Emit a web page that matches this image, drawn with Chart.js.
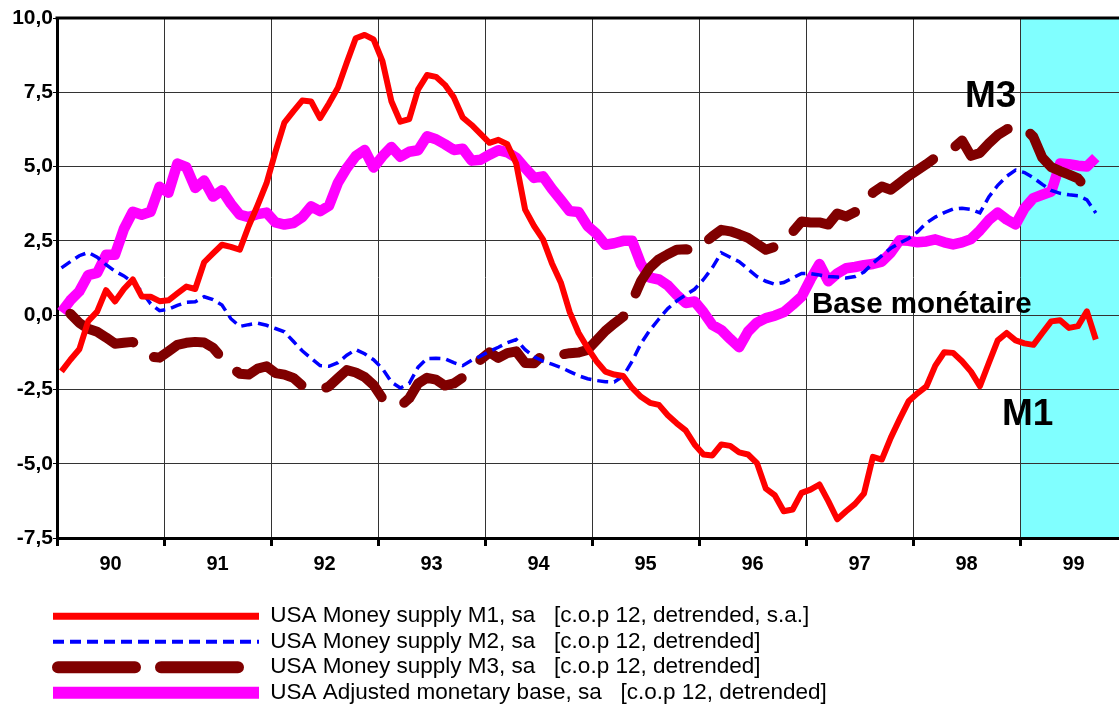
<!DOCTYPE html>
<html>
<head>
<meta charset="utf-8">
<script src="https://cdn.jsdelivr.net/npm/chart.js@4.4.0/dist/chart.umd.min.js"></script>
<style>
  html, body { margin: 0; padding: 0; background: #fff; }
  #wrap { width: 1119px; height: 709px; }
</style>
</head>
<body>
<div id="wrap"><canvas id="myChart" width="1119" height="709"></canvas></div>
<script>
// monthly values, Jan 1990 .. Sep 1999 (c.o.p 12, detrended)
var startYear = 1990;
var yearTicks = [1990, 1991, 1992, 1993, 1994, 1995, 1996, 1997, 1998, 1999];
var yearLabels = ["90", "91", "92", "93", "94", "95", "96", "97", "98", "99"];
var forecastFrom = 1999;

var m1 = [
  -1.89, -1.5, -1.15, -0.2, 0.12, 0.84, 0.46, 0.88, 1.2, 0.63,
  0.62, 0.47, 0.5, 0.73, 0.96, 0.88, 1.78, 2.08, 2.37, 2.3,
  2.2, 3.0, 3.7, 4.44, 5.5, 6.48, 6.86, 7.22, 7.19, 6.63,
  7.12, 7.65, 8.5, 9.32, 9.43, 9.28, 8.55, 7.2, 6.51, 6.6,
  7.6, 8.08, 8.02, 7.75, 7.33, 6.65, 6.4, 6.1, 5.8, 5.9,
  5.75, 5.1, 3.55, 3.0, 2.55, 1.75, 1.1, 0.1, -0.6, -1.1,
  -1.55, -1.9, -2.0, -2.05, -2.45, -2.75, -2.95, -3.02, -3.37, -3.64,
  -3.88, -4.35, -4.69, -4.72, -4.35, -4.4, -4.62, -4.69, -4.98, -5.84,
  -6.06, -6.6, -6.54, -5.98, -5.87, -5.7, -6.26, -6.87, -6.6, -6.35,
  -6.0, -4.77, -4.86, -4.13, -3.5, -2.9, -2.63, -2.4, -1.7, -1.25,
  -1.27, -1.55, -1.9, -2.39, -1.61, -0.85, -0.6, -0.85, -0.95, -1.0,
  -0.6, -0.21, -0.17, -0.43, -0.37, 0.13, -0.82
];
var m2 = [
  1.59, 1.8, 2.0, 2.11, 1.95, 1.7, 1.48, 1.32, 1.1, 0.8,
  0.38, 0.15, 0.2, 0.33, 0.43, 0.45, 0.62, 0.52, 0.34, -0.12,
  -0.38, -0.32, -0.27, -0.34, -0.45, -0.56, -0.88, -1.2, -1.45, -1.7,
  -1.72, -1.6, -1.35, -1.16, -1.3, -1.5, -1.8, -2.25, -2.45, -2.3,
  -1.75, -1.46, -1.45, -1.47, -1.6, -1.7, -1.52, -1.38, -1.22, -1.08,
  -0.93, -0.82, -1.16, -1.4, -1.55, -1.65, -1.76, -1.9, -2.04, -2.14,
  -2.2, -2.24, -2.25, -2.05, -1.55, -0.95, -0.5, -0.13, 0.22, 0.48,
  0.68, 0.87, 1.2, 1.6, 2.1, 1.95, 1.8, 1.55, 1.3, 1.14,
  1.04, 1.1, 1.25, 1.4, 1.4, 1.35, 1.3, 1.28, 1.25, 1.3,
  1.45, 1.75, 2.0, 2.25, 2.43, 2.58, 2.8, 3.1, 3.3, 3.45,
  3.57, 3.6, 3.56, 3.44, 3.98, 4.37, 4.67, 4.88, 4.8, 4.62,
  4.4, 4.2, 4.1, 4.05, 4.02, 3.88, 3.44
];
// M3 starts one month later
var m3 = [
  null, 0.05, -0.26, -0.46, -0.56, -0.75, -0.96, -0.93, -0.9, -1.22,
  -1.4, -1.43, -1.22, -1.0, -0.93, -0.9, -0.92, -1.1, -1.45, -1.75,
  -1.97, -2.0, -1.8, -1.72, -1.95, -2.0, -2.11, -2.37, -2.45, -2.52,
  -2.4, -2.12, -1.85, -1.93, -2.08, -2.35, -2.8, -2.95, -3.06, -2.8,
  -2.3, -2.11, -2.17, -2.37, -2.3, -2.1, -1.8, -1.5, -1.25, -1.44,
  -1.28, -1.22, -1.61, -1.62, -1.33, -1.33, -1.33, -1.28, -1.26, -1.17,
  -0.85, -0.53, -0.28, -0.05, 0.46, 1.15, 1.6, 1.88, 2.05, 2.2,
  2.22, 2.15, 2.4, 2.65, 2.87, 2.82, 2.72, 2.6, 2.4, 2.2,
  2.3, 2.5, 2.8, 3.15, 3.12, 3.12, 3.05, 3.42, 3.32, 3.47,
  3.75, 4.12, 4.33, 4.22, 4.45, 4.68, 4.88, 5.08, 5.3, 5.5,
  5.62, 5.88, 5.36, 5.46, 5.78, 6.06, 6.25, 6.38, 6.3, 6.0,
  5.3, 4.98, 4.85, 4.73, 4.6, 4.25, 3.8
];
var base = [
  0.1, 0.5, 0.8, 1.35, 1.42, 2.03, 2.03, 2.9, 3.48, 3.38,
  3.48, 4.32, 4.12, 5.1, 4.98, 4.28, 4.53, 3.99, 4.2, 3.75,
  3.38, 3.3, 3.4, 3.45, 3.12, 3.05, 3.1, 3.3, 3.66, 3.5,
  3.68, 4.45, 4.95, 5.35, 5.56, 4.97, 5.35, 5.66, 5.33, 5.5,
  5.55, 6.02, 5.92, 5.75, 5.56, 5.6, 5.2, 5.23, 5.4, 5.55,
  5.48, 5.3, 4.95, 4.62, 4.67, 4.25, 3.88, 3.5, 3.47, 3.0,
  2.74, 2.37, 2.42, 2.5, 2.5, 1.72, 1.26, 1.2, 1.0, 0.68,
  0.41, 0.46, 0.1, -0.33, -0.5, -0.8, -1.08, -0.55, -0.25, -0.1,
  -0.02, 0.1, 0.35, 0.62, 1.2, 1.72, 1.14, 1.4, 1.58, 1.62,
  1.68, 1.72, 1.8, 2.1, 2.52, 2.5, 2.45, 2.48, 2.55, 2.45,
  2.38, 2.45, 2.56, 2.85, 3.2, 3.45, 3.22, 3.05, 3.6, 3.94,
  4.05, 4.16, 5.1, 5.08, 5.03, 5.0, 5.3
];

var seriesNames = [
  "USA Money supply M1, sa   [c.o.p 12, detrended, s.a.]",
  "USA Money supply M2, sa   [c.o.p 12, detrended]",
  "USA Money supply M3, sa   [c.o.p 12, detrended]",
  "USA Adjusted monetary base, sa   [c.o.p 12, detrended]"
];

// text notes on the plot: [text, year, value, size]
var notes = [
  ["M3", 1998.486, 7.0, 37],
  ["Base monétaire", 1997.056, 0.07, 29.5],
  ["M1", 1998.832, -3.69, 37]
];

var fontFamily = 'Arial, "Liberation Sans", sans-serif';

// points sit in the middle of each month
function toPoints(values) {
  var pts = [];
  for (var i = 0; i < values.length; i++) {
    pts.push({ x: startYear + (i + 0.5) / 12, y: values[i] });
  }
  return pts;
}

var decorPlugin = {
  id: "decor",
  afterLayout: function (chart) {
    // legend starts under the plot, not at the canvas edge
    if (chart.legend) chart.legend.left = 50;
  },
  beforeDraw: function (chart) {
    var ctx = chart.ctx;
    var area = chart.chartArea;
    var x0 = chart.scales.x.getPixelForValue(forecastFrom);
    ctx.save();
    ctx.fillStyle = "#80ffff";
    ctx.fillRect(x0, area.top, area.right - x0, area.bottom - area.top);
    ctx.restore();
  },
  afterDraw: function (chart) {
    var ctx = chart.ctx;
    var area = chart.chartArea;
    ctx.save();
    // top frame line
    ctx.strokeStyle = "#000";
    ctx.lineWidth = 3;
    ctx.beginPath();
    ctx.moveTo(area.left - 1.5, area.top);
    ctx.lineTo(area.right, area.top);
    ctx.stroke();

    ctx.fillStyle = "#000";
    ctx.textAlign = "left";
    ctx.textBaseline = "alphabetic";
    for (var i = 0; i < notes.length; i++) {
      var n = notes[i];
      ctx.font = "bold " + n[3] + "px " + fontFamily;
      ctx.fillText(n[0], chart.scales.x.getPixelForValue(n[1]), chart.scales.y.getPixelForValue(n[2]));
    }
    ctx.restore();
  }
};

var legendWidths = [7, 4, 12, 12];
var legendDash = [[], [11, 6], [77, 26, 77, 60], []];
var legendDashOffset = [0, 0, 235, 0];
var legendCaps = ["butt", "butt", "round", "butt"];

function createChart() {
  var ctx = document.getElementById("myChart").getContext("2d");

  var myChart = new Chart(ctx, {
    type: "line",
    data: {
      datasets: [
        {
          label: seriesNames[0],
          data: toPoints(m1),
          borderColor: "#ff0000",
          backgroundColor: "#ff0000",
          borderWidth: 6,
          borderJoinStyle: "round"
        },
        {
          label: seriesNames[1],
          data: toPoints(m2),
          borderColor: "#0000ff",
          backgroundColor: "#0000ff",
          borderWidth: 3.5,
          borderDash: [11, 6]
        },
        {
          label: seriesNames[2],
          data: toPoints(m3),
          borderColor: "#800000",
          backgroundColor: "#800000",
          borderWidth: 10,
          borderDash: [73, 26],
          borderCapStyle: "round",
          borderJoinStyle: "round"
        },
        {
          label: seriesNames[3],
          data: toPoints(base),
          borderColor: "#ff00ff",
          backgroundColor: "#ff00ff",
          borderWidth: 10.5,
          borderJoinStyle: "round"
        }
      ]
    },
    options: {
      responsive: false,
      animation: false,
      devicePixelRatio: 1,
      layout: { padding: { left: 0, right: 0, top: 18, bottom: 5 } },
      elements: { point: { radius: 0 }, line: { tension: 0 } },
      scales: {
        x: {
          type: "linear",
          min: 1990,
          max: 1999.925,
          afterBuildTicks: function (scale) {
            scale.ticks = yearTicks.map(function (v) { return { value: v }; });
          },
          afterFit: function (scale) {
            scale.height = 64;
            scale.paddingLeft = 0;
            scale.paddingRight = 0;
          },
          grid: { color: "#333", lineWidth: 1, tickLength: 8, tickWidth: 3, tickColor: "#000" },
          border: { display: true, color: "#000", width: 3 },
          ticks: {
            autoSkip: false,
            maxRotation: 0,
            padding: 6,
            labelOffset: 53.5,
            color: "#000",
            font: { family: fontFamily, size: 20, weight: "bold" },
            callback: function (value, index) { return yearLabels[index]; }
          }
        },
        y: {
          min: -7.5,
          max: 10,
          afterFit: function (scale) { scale.width = 57; },
          grid: { color: "#333", lineWidth: 1, tickLength: 4, tickColor: "#000" },
          border: { display: true, color: "#000", width: 3 },
          ticks: {
            stepSize: 2.5,
            padding: 0,
            color: "#000",
            font: { family: fontFamily, size: 21, weight: "bold" },
            callback: function (value) { return value.toFixed(1).replace(".", ","); }
          }
        }
      },
      plugins: {
        tooltip: { enabled: false },
        legend: {
          position: "bottom",
          align: "start",
          maxHeight: 102,
          labels: {
            color: "#000",
            font: { family: fontFamily, size: 22.5 },
            padding: 3,
            usePointStyle: true,
            pointStyle: "line",
            pointStyleWidth: 206,
            generateLabels: function (chart) {
              var items = Chart.defaults.plugins.legend.labels.generateLabels(chart);
              return items.map(function (item, i) {
                item.lineWidth = legendWidths[i];
                item.lineDash = legendDash[i];
                item.lineDashOffset = legendDashOffset[i];
                item.lineCap = legendCaps[i];
                return item;
              });
            }
          }
        }
      }
    },
    plugins: [decorPlugin]
  });
}

createChart();
</script>
</body>
</html>
